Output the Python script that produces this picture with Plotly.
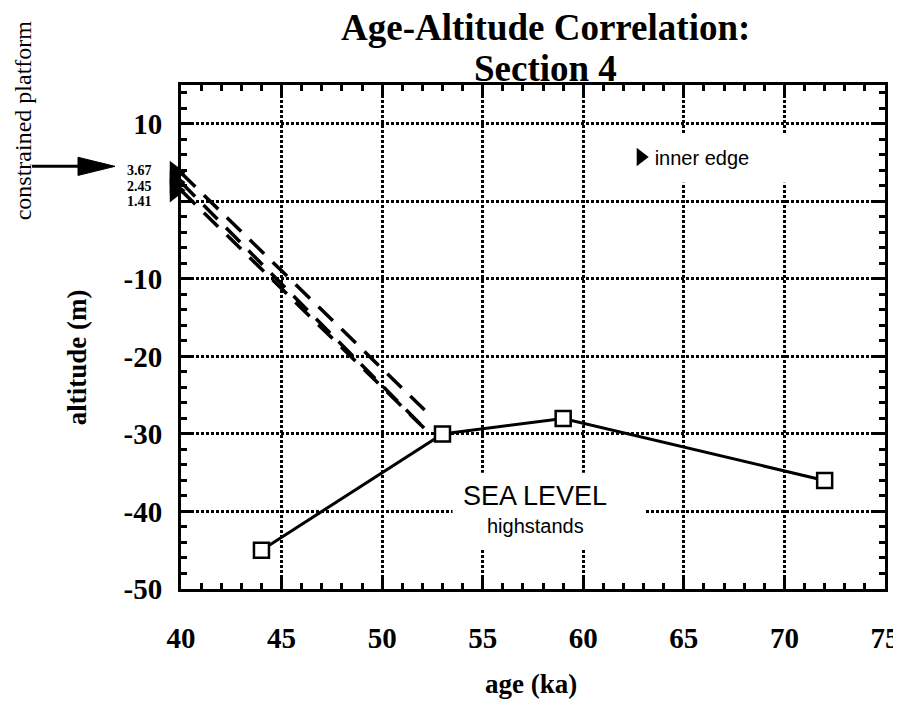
import plotly.graph_objects as go

# ---------------- data ----------------
sl_age = [44, 53, 59, 72]          # sea-level highstands (ka)
sl_alt = [-45, -30, -28, -36]      # altitude (m)

inner_edge_alt = [3.67, 2.45, 1.41]
inner_edge_labels = ["3.67", "2.45", "1.41"]
inner_edge_age = [40, 40, 40]

dash_start_age = [40, 40, 40]
dash_start_alt = [3.67, 2.45, 1.41]
dash_end_age = [52.5, 52.3, 52.3]
dash_end_alt = [-27.9, -29.8, -29.8]

x_tickvals = [40, 45, 50, 55, 60, 65, 70, 75]
y_tickvals = [10, 0, -10, -20, -30, -40, -50]
y_ticktext = ["10", "", "-10", "-20", "-30", "-40", "-50"]

SERIF = "Liberation Serif"
SANS = "Liberation Sans"

fig = go.Figure()

# dashed correlation lines
for i in range(len(dash_start_age)):
    fig.add_trace(go.Scatter(
        x=[dash_start_age[i], dash_end_age[i]],
        y=[dash_start_alt[i], dash_end_alt[i]],
        mode="lines", line=dict(color="black", width=3.5, dash="20px,12px"),
        showlegend=False, hoverinfo="skip"))

# sea level highstands
fig.add_trace(go.Scatter(
    x=sl_age, y=sl_alt, mode="lines+markers",
    line=dict(color="black", width=3),
    marker=dict(symbol="square", size=15, color="white",
                line=dict(color="black", width=2.5)),
    showlegend=False))

# inner edge triangles (pointing right, set just outside the axis)
fig.add_trace(go.Scatter(
    x=inner_edge_age, y=inner_edge_alt, mode="markers",
    marker=dict(symbol="triangle-up", angle=90, standoff=6, size=21,
                color="black"),
    name="inner edge", cliponaxis=False, showlegend=True))

axis_common = dict(
    showline=True, linecolor="black", linewidth=3, mirror="allticks",
    ticks="inside", ticklen=11, tickwidth=2.5, tickcolor="black",
    showgrid=True, gridcolor="black", gridwidth=2.5, griddash="3px,2px",
    zeroline=False, automargin=False,
    tickfont=dict(family=SERIF, size=29, color="black", weight="bold"),
)

fig.update_xaxes(range=[40, 75], tickmode="array", tickvals=x_tickvals,
                 ticklabelstandoff=21,
                 minor=dict(dtick=1, tick0=40, ticks="inside", ticklen=6,
                            tickwidth=2.5, tickcolor="black", showgrid=False),
                 **axis_common)
fig.update_yaxes(range=[-50, 15], tickmode="array", tickvals=y_tickvals,
                 ticktext=y_ticktext, ticklabelstandoff=10,
                 minor=dict(dtick=2, tick0=0, ticks="inside", ticklen=6,
                            tickwidth=2.5, tickcolor="black", showgrid=False),
                 **axis_common)

shapes = [
    # white blanking boxes behind texts
    dict(type="rect", xref="x", yref="y", x0=53.5, x1=63.1, y0=-44.85, y1=-35.0,
         fillcolor="white", line=dict(width=0), layer="between"),
    dict(type="rect", xref="x", yref="y", x0=61.8, x1=70.4, y0=2.4, y1=8.8,
         fillcolor="white", line=dict(width=0), layer="between"),
    # "constrained platform" arrow
    dict(type="line", xref="paper", yref="paper", x0=-0.2116, x1=-0.14,
         y0=0.8386, y1=0.8386, line=dict(color="black", width=3)),
    dict(type="path", xref="paper", yref="paper",
         path="M -0.1463,0.8566 L -0.09375,0.8386 L -0.1463,0.8206 Z",
         fillcolor="black", line=dict(color="black", width=1)),
]

annotations = [
    dict(text="<b>Age-Altitude Correlation:</b>", xref="paper", yref="paper",
         x=0.518, y=1.1135, xanchor="center", yanchor="middle", showarrow=False,
         font=dict(family=SERIF, size=37, color="black")),
    dict(text="<b>Section 4</b>", xref="paper", yref="paper",
         x=0.518, y=1.0337, xanchor="center", yanchor="middle", showarrow=False,
         font=dict(family=SERIF, size=37, color="black")),
    dict(text="<b>age (ka)</b>", xref="paper", yref="paper",
         x=0.497, y=-0.2222, xanchor="center", yanchor="bottom", showarrow=False,
         font=dict(family=SERIF, size=27, color="black")),
    dict(text="<b>altitude (m)</b>", xref="paper", yref="paper", textangle=-90,
         x=-0.1477, y=0.46, xanchor="center", yanchor="middle", showarrow=False,
         font=dict(family=SERIF, size=27, color="black")),
    dict(text="constrained platform", xref="paper", yref="paper", textangle=-90,
         x=-0.2244, y=0.93, xanchor="center", yanchor="middle", showarrow=False,
         font=dict(family=SERIF, size=24, color="black")),
    dict(text="SEA LEVEL", xref="paper", yref="paper",
         x=0.503, y=0.185, xanchor="center", yanchor="middle", showarrow=False,
         font=dict(family=SANS, size=27, color="black")),
    dict(text="highstands", xref="paper", yref="paper",
         x=0.504, y=0.125, xanchor="center", yanchor="middle", showarrow=False,
         font=dict(family=SANS, size=20, color="black")),
]

label_shift = [2, -4, -11]
for lab, alt, sh in zip(inner_edge_labels, inner_edge_alt, label_shift):
    annotations.append(dict(
        text="<b>" + lab + "</b>", xref="paper", yref="y", x=-0.0384, y=alt,
        yshift=sh, xanchor="right", yanchor="middle", showarrow=False,
        font=dict(family=SERIF, size=14, color="black")))

# the page body adds an 8px margin, so the figure is 8px smaller than the window
fig.update_layout(
    width=893, height=694,
    margin=dict(l=173, r=16, t=77, b=113, autoexpand=False),
    paper_bgcolor="white", plot_bgcolor="white",
    shapes=shapes, annotations=annotations,
    legend=dict(x=0.616, y=0.857, xanchor="left", yanchor="middle",
                bgcolor="rgba(0,0,0,0)", borderwidth=0,
                font=dict(family=SANS, size=20, color="black")),
)

fig.write_html("out.html")
